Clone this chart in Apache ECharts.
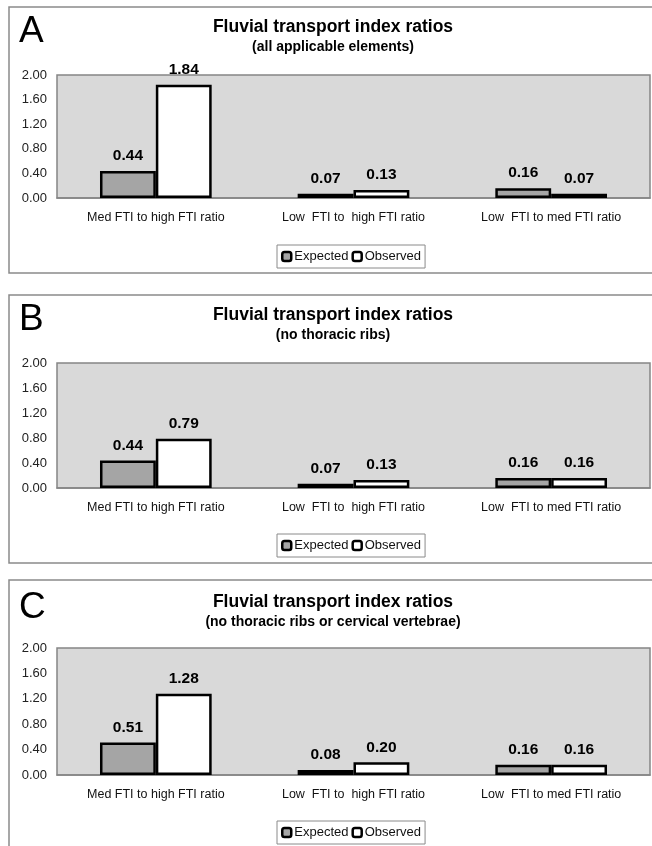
<!DOCTYPE html>
<html>
<head>
<meta charset="utf-8">
<script src="https://cdn.jsdelivr.net/npm/echarts@6/dist/echarts.min.js"></script>
<style>
  html, body { margin: 0; padding: 0; background: #fff; }
  #chart { width: 652px; height: 846px; }
</style>
</head>
<body>
<div id="chart"></div>
<script>
// data
var categories = ["Med FTI to high FTI ratio", "Low  FTI to  high FTI ratio", "Low  FTI to med FTI ratio"];
var expectedA = [0.44, 0.07, 0.16];
var observedA = [1.84, 0.13, 0.07];
var expectedB = [0.44, 0.07, 0.16];
var observedB = [0.79, 0.13, 0.16];
var expectedC = [0.51, 0.08, 0.16];
var observedC = [1.28, 0.2, 0.16];
var panelLetters = ["A", "B", "C"];
var mainTitle = "Fluvial transport index ratios";
var subTitles = ["(all applicable elements)", "(no thoracic ribs)", "(no thoracic ribs or cervical vertebrae)"];
var seriesNames = ["Expected", "Observed"];

var expected = [expectedA, expectedB, expectedC];
var observed = [observedA, observedB, observedC];

// layout per panel (pixels)
var panelTop = [7, 295, 580];
var panelHeight = [266, 268, 290];
var plotTop = [75, 363, 648];
var plotHeight = [123, 125, 127];
var titleY = [27, 315, 602];
var letterY = [32, 320, 608];
var legendTop = [245, 534, 821];

var font = "Liberation Sans, Arial, sans-serif";
var chart = echarts.init(document.getElementById("chart"));

var option = {
  animation: false,
  backgroundColor: "#fff",
  title: [],
  legend: [],
  grid: [],
  xAxis: [],
  yAxis: [],
  series: [],
  graphic: [],
};

for (var i = 0; i < 3; i++) {
  option.graphic.push({
    type: "rect",
    shape: { x: 9, y: panelTop[i], width: 670, height: panelHeight[i] },
    style: { fill: "none", stroke: "#8a8a8a", lineWidth: 1.5 },
    z: 0,
  });
  option.graphic.push({
    type: "text",
    x: 19,
    y: letterY[i],
    style: {
      text: panelLetters[i],
      font: "37px " + font,
      fill: "#000",
      textVerticalAlign: "middle",
    },
  });

  option.title.push({
    text: mainTitle,
    subtext: subTitles[i],
    left: 333,
    top: titleY[i] - 9,
    textAlign: "center",
    padding: 0,
    itemGap: 4,
    textStyle: { fontFamily: font, fontWeight: "bold", fontSize: 17.5, color: "#000" },
    subtextStyle: { fontFamily: font, fontWeight: "bold", fontSize: 14, color: "#000" },
  });

  option.legend.push({
    data: seriesNames,
    left: 277,
    top: legendTop[i],
    padding: [5, 4],
    itemGap: 3,
    itemWidth: 9,
    itemHeight: 9,
    icon: "roundRect",
    backgroundColor: "#fff",
    borderColor: "#8a8a8a",
    borderWidth: 1,
    selectedMode: false,
    itemStyle: { borderColor: "#000", borderWidth: 2.5 },
    textStyle: { fontFamily: font, fontSize: 13, color: "#111", padding: [0, 0, 0, -2] },
  });

  option.grid.push({
    left: 57,
    right: 2,
    top: plotTop[i],
    height: plotHeight[i],
    show: true,
    backgroundColor: "#d9d9d9",
    borderColor: "#858585",
    borderWidth: 1.5,
    containLabel: false,
  });

  option.xAxis.push({
    type: "category",
    gridIndex: i,
    data: categories,
    axisLine: { show: true, lineStyle: { color: "#858585", width: 1.5 } },
    axisTick: { show: false },
    axisLabel: { fontFamily: font, fontSize: 12.5, color: "#111", margin: 13 },
    splitLine: { show: false },
  });

  option.yAxis.push({
    type: "value",
    gridIndex: i,
    min: 0,
    max: 2,
    interval: 0.4,
    axisLine: { show: false },
    axisTick: { show: false },
    splitLine: { show: false },
    axisLabel: {
      fontFamily: font,
      fontSize: 13,
      color: "#222",
      margin: 10,
      formatter: function (v) {
        return v.toFixed(2);
      },
    },
  });

  var lists = [expected[i], observed[i]];
  var fills = ["#a5a5a5", "#ffffff"];
  for (var s = 0; s < 2; s++) {
    option.series.push({
      name: seriesNames[s],
      type: "bar",
      xAxisIndex: i,
      yAxisIndex: i,
      data: lists[s],
      barGap: "0%",
      barCategoryGap: "43.5%",
      itemStyle: { color: fills[s], borderColor: "#000", borderWidth: 2.5 },
      label: {
        show: true,
        position: "top",
        distance: 7,
        fontFamily: font,
        fontWeight: "bold",
        fontSize: 15.5,
        color: "#000",
        formatter: function (p) {
          return p.value.toFixed(2);
        },
      },
    });
  }
}

chart.setOption(option);
</script>
</body>
</html>
